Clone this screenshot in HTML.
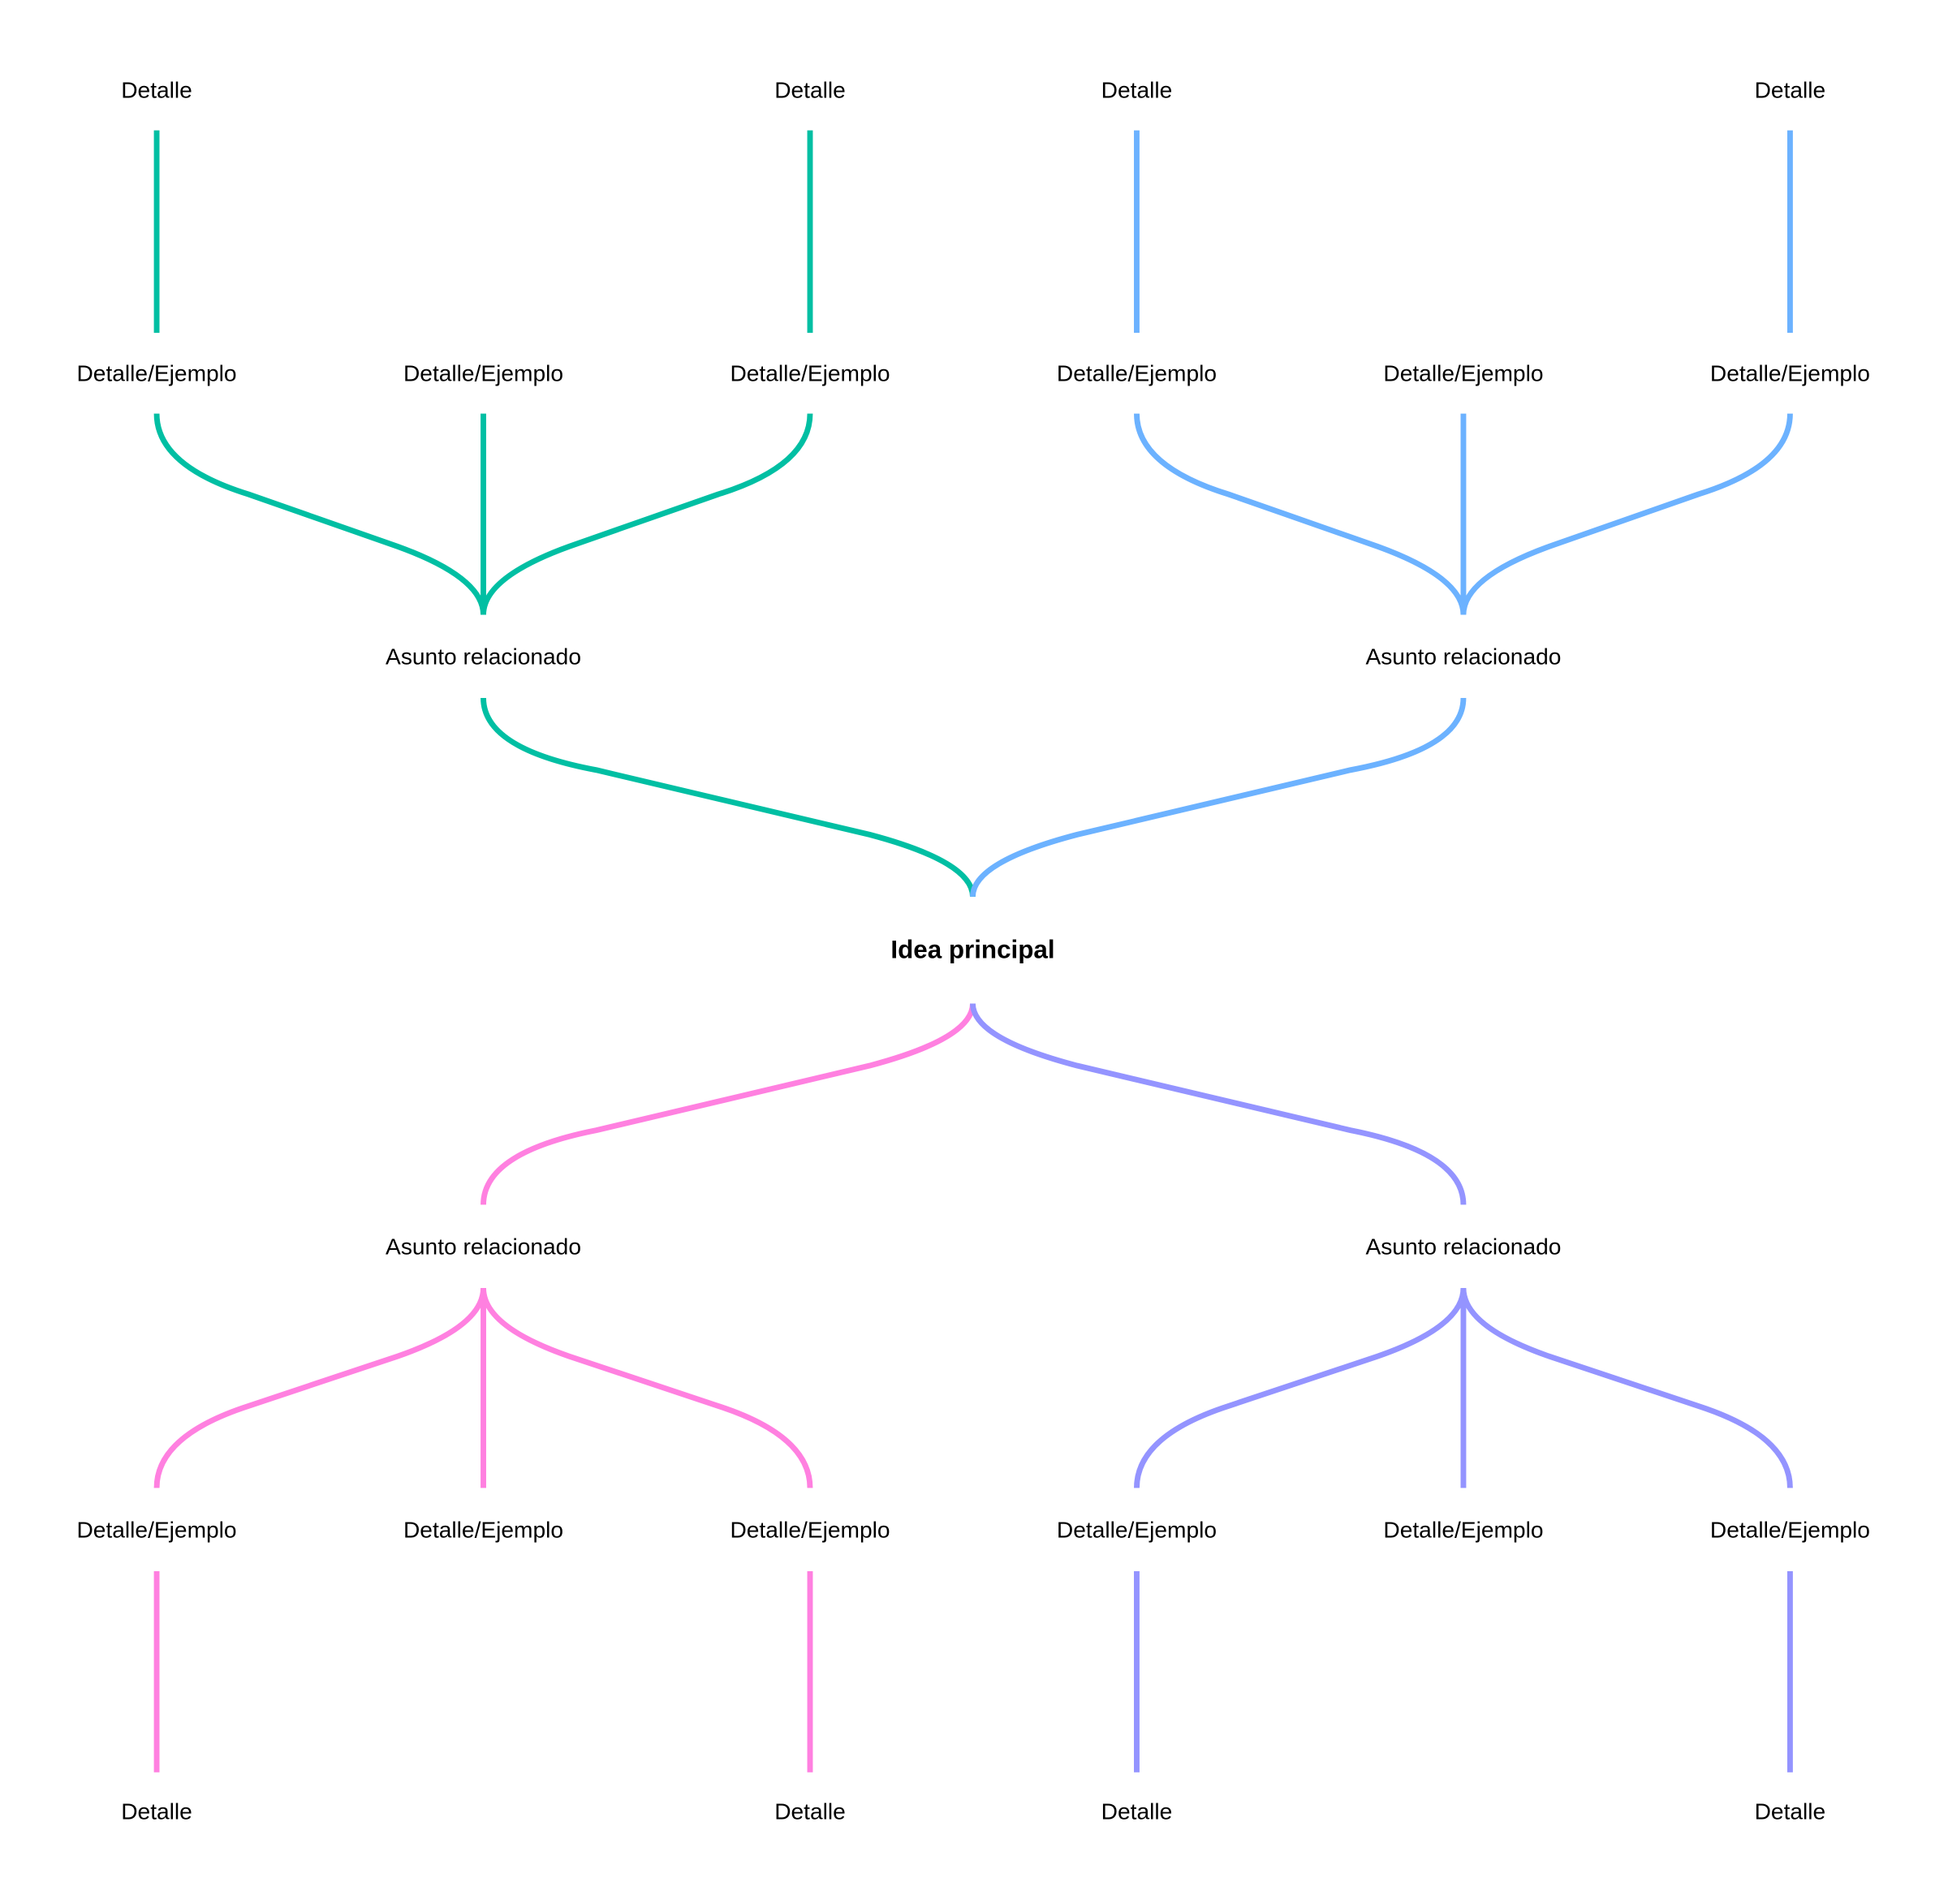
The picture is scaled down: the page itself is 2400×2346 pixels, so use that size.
<!DOCTYPE html>
<html><head><meta charset="utf-8"><style>
html,body{margin:0;padding:0;background:#fff;}
svg{display:block;}
text{font-family:"Liberation Sans",Arial,sans-serif;font-size:18.4px;fill:#000;text-anchor:middle;dominant-baseline:middle;}
path{fill:none;stroke-width:4.5;}
.t{stroke:#00bfa3}.b{stroke:#6cb2ff}.p{stroke:#ff80e0}.v{stroke:#9494ff}
</style></head><body>
<svg width="2400" height="2346" viewBox="0 0 1568 1533" xmlns="http://www.w3.org/2000/svg">
<path class="t" d="M126,105V268M652,105V268"/>
<path class="b" d="M915,105V268M1441,105V268"/>
<path class="t" d="M126,333Q126,375 200,398L320,440Q389,465 389,495M389,333V495M652,333Q652,375 578,398L458,440Q389,465 389,495"/>
<path class="b" d="M915,333Q915,375 989,398L1109,440Q1178,465 1178,495M1178,333V495M1441,333Q1441,375 1367,398L1247,440Q1178,465 1178,495"/>
<path class="t" d="M389,562Q389,603 480,620L700,672Q783,694 783,722"/>
<path class="b" d="M1178,562Q1178,603 1087,620L867,672Q783,694 783,722"/>
<path class="p" d="M783,808Q783,836 700,858L480,910Q389,928 389,970"/>
<path class="v" d="M783,808Q783,836 867,858L1087,910Q1178,928 1178,970"/>
<path class="p" d="M389,1037Q389,1068 320,1092L200,1132Q126,1156 126,1198M389,1037V1198M389,1037Q389,1068 458,1092L578,1132Q652,1156 652,1198"/>
<path class="v" d="M1178,1037Q1178,1068 1109,1092L989,1132Q915,1156 915,1198M1178,1037V1198M1178,1037Q1178,1068 1247,1092L1367,1132Q1441,1156 1441,1198"/>
<path class="p" d="M126,1265V1427M652,1265V1427"/>
<path class="v" d="M915,1265V1427M1441,1265V1427"/>
<text x="126" y="74">Detalle</text><text x="652" y="74">Detalle</text><text x="915" y="74">Detalle</text><text x="1441" y="74">Detalle</text>
<text x="126" y="302">Detalle/Ejemplo</text><text x="389" y="302">Detalle/Ejemplo</text><text x="652" y="302">Detalle/Ejemplo</text><text x="915" y="302">Detalle/Ejemplo</text><text x="1178" y="302">Detalle/Ejemplo</text><text x="1441" y="302">Detalle/Ejemplo</text>
<text x="389" y="530">Asunto relacionado</text><text x="1178" y="530">Asunto relacionado</text>
<text x="783" y="766" style="font-weight:bold;font-size:20.5px">Idea principal</text>
<text x="389" y="1005">Asunto relacionado</text><text x="1178" y="1005">Asunto relacionado</text>
<text x="126" y="1233">Detalle/Ejemplo</text><text x="389" y="1233">Detalle/Ejemplo</text><text x="652" y="1233">Detalle/Ejemplo</text><text x="915" y="1233">Detalle/Ejemplo</text><text x="1178" y="1233">Detalle/Ejemplo</text><text x="1441" y="1233">Detalle/Ejemplo</text>
<text x="126" y="1460">Detalle</text><text x="652" y="1460">Detalle</text><text x="915" y="1460">Detalle</text><text x="1441" y="1460">Detalle</text>
</svg>
</body></html>
